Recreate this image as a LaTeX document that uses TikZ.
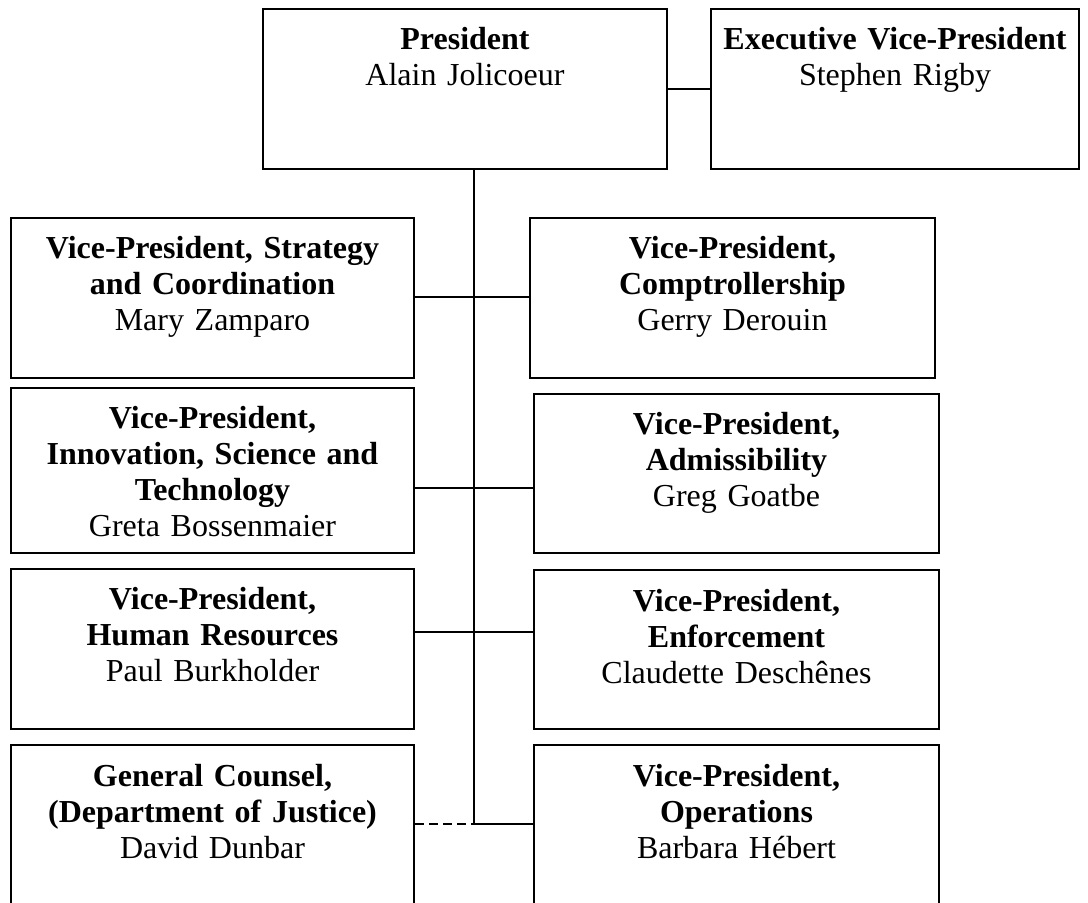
\documentclass[tikz,border=0pt]{standalone}
\usepackage{fontspec}
\setmainfont{Liberation Serif}
\usepackage{tikz}

\begin{document}
\begin{tikzpicture}[x=0.5pt, y=-0.5pt,
      every node/.style={font=\fontsize{16pt}{18pt}\selectfont},
      box/.style={draw, line width=1pt, anchor=north west, inner sep=0pt,
                  align=center, text height=20.5pt},
      link/.style={line width=0.8pt},
      dotlink/.style={line width=0.8pt, dash pattern=on 4.5pt off 2.5pt}]
    \useasboundingbox (0,0) rectangle (1088,903);
    \node[box, text width=202pt, text depth=59.5pt] (pres) at (262,8) {\textbf{President}\\Alain Jolicoeur};
    \node[box, text width=184pt, text depth=59.5pt] (evp) at (710,8) {\textbf{Executive Vice-President}\\Stephen Rigby};
    \node[box, text width=201.5pt, text depth=59.5pt] (strat) at (10,217) {\textbf{Vice-President, Strategy}\\\textbf{and Coordination}\\Mary Zamparo};
    \node[box, text width=202.5pt, text depth=59.5pt] (compt) at (529,217) {\textbf{Vice-President,}\\\textbf{Comptrollership}\\Gerry Derouin};
    \node[box, text width=201.5pt, text depth=62pt] (innov) at (10,387) {\textbf{Vice-President,}\\\textbf{Innovation, Science and}\\\textbf{Technology}\\Greta Bossenmaier};
    \node[box, text width=202.5pt, text depth=59pt] (admis) at (533,393) {\textbf{Vice-President,}\\\textbf{Admissibility}\\Greg Goatbe};
    \node[box, text width=201.5pt, text depth=59.5pt] (hr) at (10,568) {\textbf{Vice-President,}\\\textbf{Human Resources}\\Paul Burkholder};
    \node[box, text width=202.5pt, text depth=59pt] (enf) at (533,569) {\textbf{Vice-President,}\\\textbf{Enforcement}\\Claudette Deschênes};
    \node[box, text width=201.5pt, text depth=79.5pt] (legal) at (10,744) {\textbf{General Counsel,}\\\textbf{(Department of Justice)}\\David Dunbar};
    \node[box, text width=202.5pt, text depth=79.5pt] (ops) at (533,744) {\textbf{Vice-President,}\\\textbf{Operations}\\Barbara Hébert};

    \coordinate (j1) at (474,297);
    \coordinate (j2) at (474,488);
    \coordinate (j3) at (474,632);
    \coordinate (j4) at (474,824);

    \draw[link] (pres.east) -- (evp.west);
    \draw[link] (j1 |- pres.south) -- (j4);
    \draw[link] (strat.east |- j1) -- (compt.west |- j1);
    \draw[link] (innov.east |- j2) -- (admis.west |- j2);
    \draw[link] (hr.east |- j3) -- (enf.west |- j3);
    \draw[dotlink] (legal.east |- j4) -- (j4);
    \draw[link] (j4) -- (ops.west |- j4);
  \end{tikzpicture}
\end{document}
